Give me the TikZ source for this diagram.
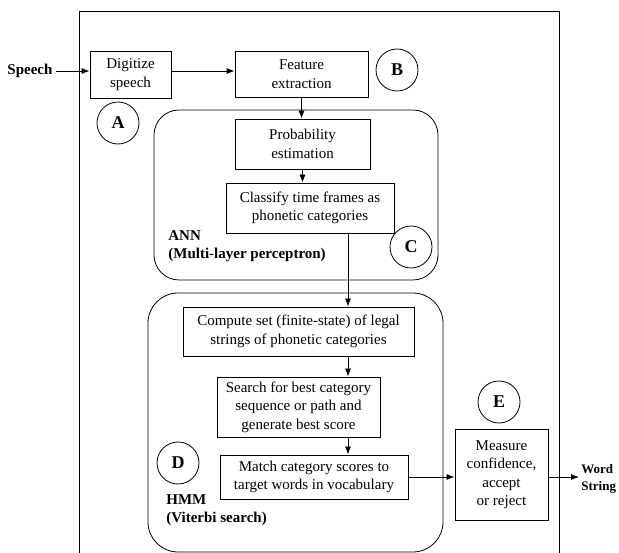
\documentclass[tikz,border=0pt]{standalone}
\usepackage{fontspec}
\setmainfont{Liberation Serif}
\usetikzlibrary{arrows.meta}
\begin{document}
\begin{tikzpicture}[x=1pt,y=-1pt,line width=0.8pt,
  every node/.style={font=\fontsize{15}{18.5}\selectfont},
  box/.style={draw,rectangle,align=center,inner sep=0pt},
  letter/.style={draw,circle,minimum size=42pt,inner sep=0pt,font=\fontsize{18}{20}\selectfont\bfseries},
  arr/.style={-{Latex[length=8pt,width=6pt]}}]
\useasboundingbox (0,0) rectangle (619,553);
\draw (79,553) -- (79,11) -- (559,11) -- (559,553);
\draw[rounded corners=25pt] (154,110) rectangle (438,280);
\draw[rounded corners=30pt] (148,293) rectangle (443,552);
\coordinate (col) at (348,0);
\node[inner sep=0pt] (speech) at (30,71) {\bfseries Speech};
\node[box,minimum width=81pt,minimum height=47pt] (digit) at (130.5,74.5) {Digitize\\speech};
\node[box,minimum width=133pt,minimum height=46pt] (feat) at (301.5,74) {Feature\\extraction};
\node[box,minimum width=135pt,minimum height=50pt] (prob) at (302.5,144) {Probability\\estimation};
\node[box,minimum width=168pt,minimum height=50pt] (classify) at (310,208) {Classify time frames as\\phonetic categories};
\node[box,minimum width=231pt,minimum height=49pt] (compute) at (298.5,331.5) {Compute set (finite-state) of legal\\strings of phonetic categories};
\node[box,minimum width=163pt,minimum height=60pt] (search) at (298.5,407) {Search for best category\\sequence or path and\\generate best score};
\node[box,minimum width=188pt,minimum height=44pt] (match) at (314,477) {Match category scores to\\target words in vocabulary};
\node[box,minimum width=93pt,minimum height=91pt] (measure) at (501.5,474.5) {Measure\\confidence,\\accept\\or reject};
\node[anchor=west,align=left,inner sep=0pt,font=\fontsize{13}{17}\selectfont\bfseries] (word) at (581,479) {Word\\String};
\node[anchor=west,align=left,inner sep=0pt] (ann) at (168,246) {\bfseries ANN\\\bfseries (Multi-layer perceptron)};
\node[anchor=west,align=left,inner sep=0pt] (hmm) at (166,510) {\bfseries HMM\\\bfseries (Viterbi search)};
\node[letter] (la) at (118,123) {A};
\node[letter] (lb) at (397,70) {B};
\node[letter] (lc) at (411,247) {C};
\node[letter] (ld) at (178,463) {D};
\node[letter] (le) at (499,402) {E};
\draw[arr] (speech.east) ++(3,0) -- (speech.east -| digit.west);
\draw[arr] (speech.east -| digit.east) -- (speech.east -| feat.west);
\draw[arr] (feat.south) -- (feat.south |- prob.north);
\draw[arr] (prob.south) -- (prob.south |- classify.north);
\draw[arr] (classify.south -| col) -- (compute.north -| col);
\draw[arr] (compute.south -| col) -- (search.north -| col);
\draw[arr] (search.south -| col) -- (match.north -| col);
\draw[arr] (match.east) -- (match.east -| measure.west);
\draw[arr] (measure.east |- match.east) -- ([xshift=-2pt]word.west |- match.east);
\end{tikzpicture}
\end{document}
